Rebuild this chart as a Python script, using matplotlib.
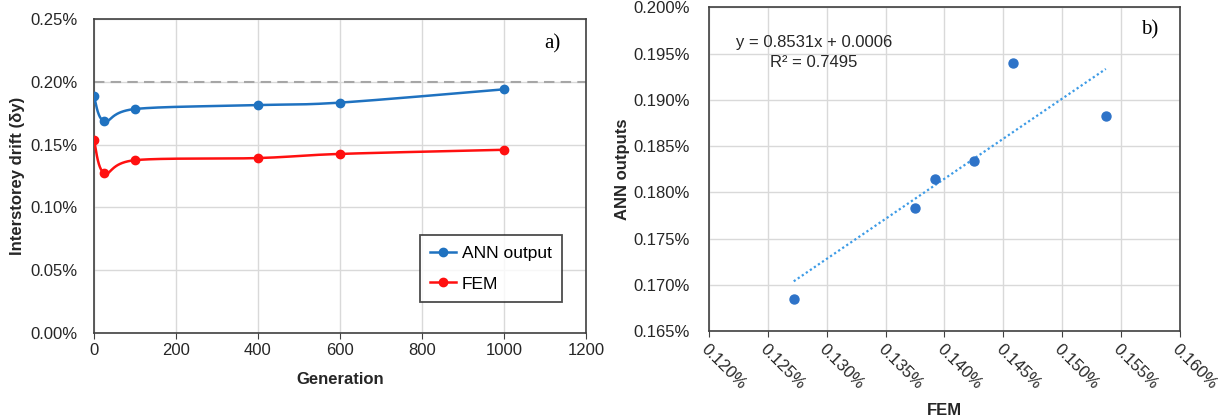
import numpy as np
import matplotlib
matplotlib.use("Agg")
from matplotlib import pyplot as plt
from matplotlib.ticker import FuncFormatter, MultipleLocator

plt.rcParams['font.family'] = ['Liberation Sans', 'DejaVu Sans']

# drift values are in percent
generation = [0, 25, 100, 400, 600, 1000]
ann_output = [0.1883, 0.1685, 0.1783, 0.1814, 0.1834, 0.1940]
fem_output = [0.1537, 0.1272, 0.1375, 0.1392, 0.1425, 0.1458]
drift_limit = 0.20

equation_text = "y = 0.8531x + 0.0006"
r2_text = "R² = 0.7495"

blue = "#1f72c0"
red = "#ff1010"
grid_color = "#d9d9d9"
frame_color = "#404040"


def smooth_curve(xs, ys, sx, sy, n=40):
    # Excel-like smoothed line: cubic bezier segments with catmull-rom control points
    px = np.array(xs, float) / sx
    py = np.array(ys, float) / sy
    pts = np.column_stack([px, py])
    pts = np.vstack([pts[0], pts, pts[-1]])
    out = []
    t = np.linspace(0, 1, n)[:, None]
    for i in range(1, len(pts) - 2):
        p0, p1, p2, p3 = pts[i - 1], pts[i], pts[i + 1], pts[i + 2]
        c1 = p1 + (p2 - p0) / 6
        c2 = p2 - (p3 - p1) / 6
        seg = ((1 - t) ** 3) * p1 + 3 * ((1 - t) ** 2) * t * c1 + 3 * (1 - t) * t ** 2 * c2 + t ** 3 * p2
        out.append(seg)
    curve = np.vstack(out)
    return curve[:, 0] * sx, curve[:, 1] * sy


def style_axes(ax, ypad):
    for s in ax.spines.values():
        s.set_color(frame_color)
        s.set_linewidth(1.2)
    ax.grid(True, color=grid_color, linewidth=1.0)
    ax.set_axisbelow(True)
    ax.tick_params(axis='y', length=0, labelsize=12, colors='#262626', pad=ypad)
    ax.tick_params(axis='x', length=4, direction='out', color=frame_color, labelsize=12, colors='#262626')


fig = plt.figure(figsize=(12.27, 4.19), dpi=100)

# a) convergence over generations
ax1 = fig.add_axes([0.0766, 0.206, 0.4010, 0.7485])
style_axes(ax1, 12)
ax1.axhline(drift_limit, color="#a6a6a6", linestyle=(0, (5, 3)), linewidth=1.5, zorder=1)

cx, cy = smooth_curve(generation, ann_output, 1200 / 488, 0.25 / 312)
ax1.plot(cx, cy, color=blue, linewidth=1.8, zorder=3)
ax1.plot(generation, ann_output, 'o', color=blue, markersize=6, zorder=4)
cx, cy = smooth_curve(generation, fem_output, 1200 / 488, 0.25 / 312)
ax1.plot(cx, cy, color=red, linewidth=1.8, zorder=3)
ax1.plot(generation, fem_output, 'o', color=red, markersize=6, zorder=4)

ax1.plot([], [], '-o', color=blue, linewidth=1.8, markersize=6, label="ANN output")
ax1.plot([], [], '-o', color=red, linewidth=1.8, markersize=6, label="FEM")

ax1.set_xlim(0, 1200)
ax1.set_ylim(0, 0.25)
ax1.xaxis.set_major_locator(MultipleLocator(200))
ax1.yaxis.set_major_locator(MultipleLocator(0.05))
ax1.yaxis.set_major_formatter(FuncFormatter(lambda v, p: f"{v:.2f}%"))
ax1.set_xlabel("Generation", fontsize=12, fontweight='bold', color='#262626', labelpad=10)
ax1.set_ylabel("Interstorey drift (δy)", fontsize=12, fontweight='bold', color='#262626')
ax1.text(0.916, 0.92, "a)", transform=ax1.transAxes, fontsize=15,
         family='Liberation Serif', ha='left', va='center')

handles, labels = ax1.get_legend_handles_labels()
leg = ax1.legend(handles[-2:], labels[-2:], loc='lower right', bbox_to_anchor=(0.951, 0.098),
                 borderaxespad=0, fontsize=12.5, frameon=True, fancybox=False, handlelength=1.5,
                 borderpad=0.6, labelspacing=0.9, handletextpad=0.3)
leg.get_frame().set_edgecolor('#202020')
leg.get_frame().set_linewidth(1.3)

# b) ANN vs FEM correlation
ax2 = fig.add_axes([0.5778, 0.210, 0.3839, 0.7726])
style_axes(ax2, 14)
ax2.scatter(fem_output, ann_output, s=42, color="#2e73c8", zorder=4)

slope, intercept = np.polyfit(fem_output, ann_output, 1)
tx = np.array([min(fem_output), max(fem_output)])
ax2.plot(tx, slope * tx + intercept, linestyle=(0, (1, 1.2)), color="#3d9be6", linewidth=1.6, zorder=3)

ax2.set_xlim(0.120, 0.160)
ax2.set_ylim(0.165, 0.200)
ax2.xaxis.set_major_locator(MultipleLocator(0.005))
ax2.yaxis.set_major_locator(MultipleLocator(0.005))
ax2.xaxis.set_major_formatter(FuncFormatter(lambda v, p: f"{v:.3f}%"))
ax2.yaxis.set_major_formatter(FuncFormatter(lambda v, p: f"{v:.3f}%"))
for lbl in ax2.get_xticklabels():
    lbl.set_rotation(-45)
    lbl.set_ha('left')
    lbl.set_va('top')
    lbl.set_rotation_mode('anchor')
ax2.set_xlabel("FEM", fontsize=12, fontweight='bold', color='#262626', labelpad=8)
ax2.set_ylabel("ANN outputs", fontsize=12, fontweight='bold', color='#262626', labelpad=2)
ax2.text(0.057, 0.89, equation_text, transform=ax2.transAxes, fontsize=12, va='center', color='#262626')
ax2.text(0.130, 0.828, r2_text, transform=ax2.transAxes, fontsize=12, va='center', color='#262626')
ax2.text(0.917, 0.93, "b)", transform=ax2.transAxes, fontsize=15,
         family='Liberation Serif', ha='left', va='center')

fig.savefig("out.png", dpi=100)
